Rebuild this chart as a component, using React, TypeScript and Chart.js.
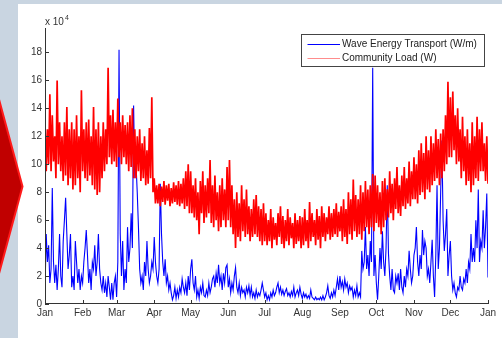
import React, { useEffect, useRef } from 'react';
import { Chart, registerables } from 'chart.js';

Chart.register(...registerables);

// ---------- axis / labels ----------
const MONTH_LABELS = ['Jan', 'Feb', 'Mar', 'Apr', 'May', 'Jun', 'Jul', 'Aug', 'Sep', 'Oct', 'Nov', 'Dec', 'Jan'];
const MONTH_START_DAYS = [0, 31, 59, 90, 120, 151, 181, 212, 243, 273, 304, 334, 365];
const Y_TICK_VALUES = [0, 2, 4, 6, 8, 10, 12, 14, 16, 18];
const Y_MAX = 19.75;
const Y_EXPONENT_LABEL = 'x 10';
const Y_EXPONENT = '4';
const SERIES_NAMES = ['Wave Energy Transport (W/m)', 'Community Load (W)'];

// ---------- wave energy transport, daily (x 10^4 W/m) ----------
const waveJan = [1.0, 5.0, 3.0, 4.2, 1.5, 2.5, 8.3, 3.0, 1.5, 2.8, 1.0, 2.5, 5.0, 2.0, 1.2, 4.5, 6.0, 7.6, 5.0, 2.5, 3.5, 5.0, 1.2, 2.0, 1.0, 4.5, 3.0, 1.5, 2.5, 1.0, 2.0];
const waveFeb = [1.5, 3.0, 4.0, 5.3, 3.5, 1.5, 2.5, 1.0, 3.0, 2.5, 4.2, 2.0, 3.0, 5.0, 2.5, 1.5, 1.0, 2.0, 0.8, 1.5, 0.5, 2.0, 1.2, 0.3, 1.5, 0.3, 1.5, 2.0];
const waveMar = [0.5, 3.0, 18.2, 5.0, 2.0, 4.5, 1.0, 2.5, 1.5, 5.5, 3.0, 4.0, 6.5, 4.0, 14.2, 9.0, 10.0, 8.0, 5.5, 2.5, 1.5, 2.0, 1.0, 3.0, 2.0, 4.5, 2.5, 1.5, 2.0, 3.0, 2.5];
const waveApr = [4.8, 3.0, 2.0, 1.5, 2.5, 8.6, 5.0, 3.0, 2.0, 3.2, 1.5, 2.0, 1.0, 1.5, 0.8, 0.3, 0.6, 1.2, 0.4, 1.0, 0.5, 1.2, 0.8, 1.8, 1.2, 0.8, 1.5, 0.6, 2.0, 1.0];
const waveMay = [2.5, 3.2, 1.5, 1.0, 2.0, 0.5, 1.0, 0.4, 1.2, 0.8, 1.5, 0.6, 0.5, 1.0, 0.6, 1.5, 0.8, 1.2, 1.8, 2.0, 1.2, 2.2, 1.5, 2.8, 1.5, 2.0, 1.0, 2.2, 1.5, 2.6, 2.8];
const waveJun = [1.2, 1.8, 0.8, 1.5, 1.0, 2.0, 2.6, 1.2, 0.8, 1.5, 0.6, 1.2, 0.8, 1.0, 0.5, 1.2, 0.8, 1.3, 0.6, 1.2, 0.5, 0.8, 0.4, 1.0, 0.5, 0.8, 0.6, 1.0, 1.5, 1.0];
const waveJul = [0.5, 0.8, 0.3, 0.6, 0.3, 0.8, 0.5, 1.0, 0.6, 0.8, 1.2, 1.5, 0.8, 1.2, 0.7, 1.0, 0.6, 0.9, 1.1, 0.6, 0.8, 0.5, 0.9, 0.6, 1.2, 0.5, 0.8, 1.0, 0.6, 1.2, 0.7];
const waveAug = [0.4, 0.8, 0.5, 0.7, 0.4, 0.6, 0.4, 1.0, 0.5, 0.4, 0.3, 0.5, 0.3, 0.4, 0.3, 0.5, 0.3, 0.6, 0.3, 0.5, 0.8, 1.3, 0.6, 0.4, 0.8, 0.5, 1.0, 0.6, 1.2, 1.8, 1.0];
const waveSep = [2.0, 1.2, 1.6, 1.0, 1.8, 1.2, 1.5, 0.8, 1.3, 1.0, 1.2, 0.5, 1.0, 0.6, 1.3, 0.5, 0.8, 0.5, 3.8, 2.5, 3.0, 5.5, 2.5, 3.5, 2.0, 4.5, 3.0, 16.9, 2.0, 3.5];
const waveOct = [1.5, 0.3, 2.0, 4.0, 2.5, 5.2, 3.0, 2.0, 4.0, 8.5, 3.6, 2.0, 1.0, 2.5, 1.0, 0.8, 2.0, 1.5, 2.2, 1.0, 2.5, 1.2, 0.8, 2.0, 1.2, 2.5, 2.0, 3.8, 2.5, 1.5, 2.0];
const waveNov = [3.5, 4.0, 5.5, 3.0, 2.0, 3.5, 2.5, 5.3, 3.5, 4.5, 4.0, 2.0, 2.5, 1.5, 3.0, 4.6, 2.0, 0.5, 3.5, 8.5, 2.5, 4.0, 8.0, 11.7, 6.0, 3.8, 5.0, 6.8, 2.0, 3.5];
const waveDec = [4.5, 2.0, 1.0, 1.5, 0.8, 0.5, 1.2, 1.0, 2.0, 1.2, 1.0, 1.8, 1.5, 2.5, 1.5, 3.0, 2.5, 5.0, 3.0, 4.0, 3.0, 6.0, 4.0, 8.2, 3.0, 4.5, 4.0, 6.7, 4.0, 5.5, 7.9, 1.9];

// ---------- community load, daily peak / trough every 2 days (x 10^4 W) ----------
const loadHigh = [
  // Jan
  13.0, 12.5, 15.0, 13.5, 12.0, 16.0, 13.0, 12.0, 13.0, 14.1, 12.5, 13.0, 12.5, 13.5, 12.0, 15.3,
  // Feb
  12.5, 13.0, 13.2, 12.0, 14.1, 12.5, 13.0, 12.0, 13.0, 12.5, 16.9, 13.5, 13.9, 13.0,
  // Mar
  14.7, 13.0, 13.5, 12.8, 13.0, 13.5, 14.0, 12.5, 12.0, 12.5, 11.5, 12.0, 11.0, 12.6, 14.8,
  // Apr
  9.0, 8.5, 8.6, 8.4, 8.8, 8.5, 8.6, 8.3, 8.7, 8.5, 8.8, 8.6, 9.0, 9.5, 10.0,
  // May
  9.5, 8.5, 9.0, 8.0, 8.8, 9.5, 8.5, 9.0, 10.3, 8.5, 9.2, 8.0, 8.5, 9.0, 8.2, 9.8,
  // Jun
  10.3, 8.5, 7.5, 8.0, 7.2, 8.5, 7.5, 8.2, 7.0, 6.8, 7.5, 7.8, 7.0, 6.8, 7.2,
  // Jul
  6.5, 6.0, 6.8, 6.2, 5.8, 6.5, 7.0, 6.3, 6.0, 6.8, 6.2, 5.8, 6.5, 6.0, 6.3,
  // Aug
  6.2, 6.8, 6.0, 7.3, 6.5, 6.0, 6.8, 6.3, 7.0, 6.5, 6.2, 7.0, 6.5, 6.8, 7.2, 6.6,
  // Sep
  7.0, 7.5, 6.8, 8.0, 7.5, 8.9, 7.8, 7.5, 8.5, 8.0, 8.8, 8.2, 8.5, 9.3, 9.2,
  // Oct
  8.5, 8.0, 8.8, 9.0, 8.2, 9.5, 8.6, 9.0, 9.8, 8.5, 9.2, 9.8, 9.0, 10.2, 9.5,
  // Nov
  10.5, 10.0, 11.0, 11.5, 10.8, 12.0, 11.0, 12.0, 11.5, 12.5, 11.8, 12.2, 12.5, 13.5, 15.9,
  // Dec
  14.8, 15.2, 13.5, 14.0, 12.5, 13.4, 12.0, 12.5, 11.5, 13.0, 12.0, 13.4, 12.5, 13.0, 11.5, 12.0,
];
const loadLow = [
  // Jan
  9.5, 10.0, 9.5, 10.2, 9.0, 10.0, 9.5, 8.8, 9.2, 8.5, 9.0, 8.2, 8.5, 9.0, 8.0, 9.5,
  // Feb
  9.0, 8.8, 9.2, 8.5, 8.2, 7.8, 8.0, 9.0, 9.5, 10.0, 10.5, 10.0, 10.2, 9.8,
  // Mar
  10.5, 10.0, 10.5, 10.0, 9.5, 9.8, 9.0, 9.0, 9.5, 8.8, 9.0, 8.5, 8.6, 9.0, 8.0,
  // Apr
  7.2, 7.2, 7.0, 7.3, 7.1, 7.4, 7.0, 7.2, 7.3, 7.1, 7.0, 7.2, 6.8, 7.0, 6.5,
  // May
  6.5, 6.2, 6.0, 5.0, 6.5, 5.8, 6.2, 6.5, 5.8, 5.5, 6.0, 5.2, 5.5, 6.0, 5.5, 6.0,
  // Jun
  5.5, 5.0, 4.0, 4.8, 4.5, 5.2, 4.8, 5.0, 4.5, 4.8, 5.0, 4.8, 4.5, 4.2, 4.5,
  // Jul
  4.2, 4.5, 4.0, 4.6, 4.2, 4.8, 4.3, 4.0, 4.5, 4.2, 4.7, 4.0, 4.3, 4.5, 4.0,
  // Aug
  4.2, 4.5, 4.0, 4.5, 4.8, 4.2, 4.6, 4.0, 4.8, 4.5, 5.0, 4.6, 4.8, 5.0, 4.8, 5.2,
  // Sep
  4.5, 4.8, 4.3, 5.0, 4.6, 5.2, 4.8, 5.0, 4.6, 5.2, 5.5, 5.0, 5.5, 5.2, 5.8,
  // Oct
  5.5, 5.0, 5.5, 6.0, 6.2, 6.5, 6.0, 6.8, 6.5, 6.3, 7.0, 6.8, 7.2, 7.0, 7.5,
  // Nov
  7.5, 7.2, 7.8, 8.0, 7.5, 8.2, 8.0, 8.5, 8.8, 9.0, 8.5, 9.0, 9.5, 10.0, 10.5,
  // Dec
  10.5, 11.0, 10.0, 10.2, 9.0, 9.5, 8.5, 8.8, 8.0, 8.5, 9.0, 8.8, 9.5, 9.5, 8.8, 8.6,
];

const waveValues = [
  ...waveJan, ...waveFeb, ...waveMar, ...waveApr, ...waveMay, ...waveJun,
  ...waveJul, ...waveAug, ...waveSep, ...waveOct, ...waveNov, ...waveDec,
];
const wavePoints = waveValues.map((v, d) => ({ x: d, y: v }));
const loadPoints = loadHigh.flatMap((h, i) => [
  { x: 2 * i, y: h },
  { x: 2 * i + 1, y: loadLow[i] },
]);

const FONT = "'Liberation Sans', Arial, sans-serif";
const AXIS_COLOR = '#333333';
const BLUE = '#0000ff';
const RED = '#ff0000';

const decorPlugin = {
  id: 'decor',
  beforeDraw(chart: any) {
    const ctx = chart.ctx as CanvasRenderingContext2D;
    const W = chart.width;
    const H = chart.height;
    ctx.save();
    ctx.fillStyle = '#c9d5e1';
    ctx.fillRect(0, 0, W, H);
    ctx.fillStyle = '#ffffff';
    ctx.fillRect(18, 4, W - 18, H - 4);
    // red arrow at the left edge
    ctx.beginPath();
    ctx.moveTo(-3, 92);
    ctx.lineTo(22.5, 186.5);
    ctx.lineTo(-3, 281);
    ctx.closePath();
    ctx.fillStyle = '#c00000';
    ctx.fill();
    ctx.strokeStyle = '#ff1a1a';
    ctx.lineWidth = 2;
    ctx.stroke();
    ctx.restore();
  },
  afterDraw(chart: any) {
    const ctx = chart.ctx as CanvasRenderingContext2D;
    const { left, right, top, bottom } = chart.chartArea;
    const xs = chart.scales.x;
    const ys = chart.scales.y;
    ctx.save();
    // axes lines
    ctx.strokeStyle = AXIS_COLOR;
    ctx.lineWidth = 1;
    ctx.beginPath();
    ctx.moveTo(left + 0.5, top);
    ctx.lineTo(left + 0.5, bottom - 0.5);
    ctx.lineTo(right + 0.5, bottom - 0.5);
    ctx.stroke();
    // inward tick marks
    ctx.beginPath();
    Y_TICK_VALUES.forEach((v) => {
      const y = Math.round(ys.getPixelForValue(v)) + 0.5;
      ctx.moveTo(left, y);
      ctx.lineTo(left + 4, y);
    });
    MONTH_START_DAYS.forEach((d) => {
      const x = Math.round(xs.getPixelForValue(d)) + 0.5;
      ctx.moveTo(x, bottom);
      ctx.lineTo(x, bottom - 4);
    });
    ctx.stroke();
    // exponent label
    ctx.fillStyle = AXIS_COLOR;
    ctx.font = `10px ${FONT}`;
    ctx.textAlign = 'left';
    ctx.textBaseline = 'alphabetic';
    ctx.fillText(Y_EXPONENT_LABEL, left, 25);
    const w = ctx.measureText(Y_EXPONENT_LABEL).width;
    ctx.font = `7px ${FONT}`;
    ctx.fillText(Y_EXPONENT, left + w + 1, 20);
    // legend
    const lx = 301.5, ly = 34.5, lw = 183, lh = 32;
    ctx.fillStyle = '#ffffff';
    ctx.fillRect(lx, ly, lw, lh);
    ctx.strokeStyle = '#444444';
    ctx.lineWidth = 1;
    ctx.strokeRect(lx, ly, lw, lh);
    const rows = [
      { y: 44, color: BLUE, alpha: 1 },
      { y: 58, color: RED, alpha: 0.45 },
    ];
    rows.forEach((r, i) => {
      ctx.globalAlpha = r.alpha;
      ctx.strokeStyle = r.color;
      ctx.beginPath();
      ctx.moveTo(307.5, r.y + 0.5);
      ctx.lineTo(340, r.y + 0.5);
      ctx.stroke();
      ctx.globalAlpha = 1;
      ctx.fillStyle = '#222222';
      ctx.font = `10px ${FONT}`;
      ctx.textBaseline = 'middle';
      ctx.fillText(SERIES_NAMES[i], 342, r.y + 0.5);
    });
    ctx.restore();
  },
};

export default function App() {
  const canvasRef = useRef<HTMLCanvasElement | null>(null);

  useEffect(() => {
    if (!canvasRef.current) return;
    const chart = new Chart(canvasRef.current, {
      type: 'line',
      data: {
        datasets: [
          {
            label: SERIES_NAMES[0],
            data: wavePoints,
            borderColor: BLUE,
            borderWidth: 1.1,
            pointRadius: 0,
            tension: 0,
            fill: false,
            order: 1,
          },
          {
            label: SERIES_NAMES[1],
            data: loadPoints,
            borderColor: RED,
            borderWidth: 1.7,
            pointRadius: 0,
            tension: 0,
            fill: false,
            order: 0,
          },
        ],
      },
      options: {
        responsive: false,
        animation: false,
        devicePixelRatio: 1,
        events: [],
        layout: { padding: { left: 0, right: 14, top: 28, bottom: 0 } },
        plugins: { legend: { display: false }, tooltip: { enabled: false } },
        scales: {
          x: {
            type: 'linear',
            min: 0,
            max: 365,
            grid: { display: false, drawTicks: false },
            border: { display: false },
            afterFit: (scale: any) => {
              scale.height = 34;
            },
            afterBuildTicks: (scale: any) => {
              scale.ticks = MONTH_START_DAYS.map((v) => ({ value: v }));
            },
            ticks: {
              autoSkip: false,
              maxRotation: 0,
              padding: 3,
              color: AXIS_COLOR,
              font: { family: FONT, size: 10 },
              callback: (value: any) => MONTH_LABELS[MONTH_START_DAYS.indexOf(Number(value))],
            },
          },
          y: {
            type: 'linear',
            min: 0,
            max: Y_MAX,
            grid: { display: false, drawTicks: false },
            border: { display: false },
            afterFit: (scale: any) => {
              scale.width = 45;
            },
            afterBuildTicks: (scale: any) => {
              scale.ticks = Y_TICK_VALUES.map((v) => ({ value: v }));
            },
            ticks: {
              padding: 3,
              color: AXIS_COLOR,
              font: { family: FONT, size: 10 },
              callback: (value: any) => String(value),
            },
          },
        },
      },
      plugins: [decorPlugin],
    } as any);
    return () => chart.destroy();
  }, []);

  return (
    <div style={{ position: 'fixed', left: 0, top: 0, width: 502, height: 338 }}>
      <canvas ref={canvasRef} width={502} height={338} style={{ display: 'block' }} />
    </div>
  );
}
